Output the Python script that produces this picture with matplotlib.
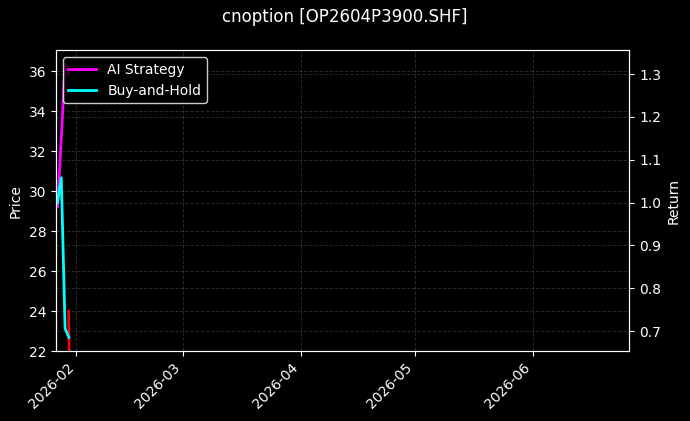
"""Option backtest chart: price vs strategy returns"""
import numpy as np
import pandas as pd
import matplotlib
matplotlib.use("Agg")
import matplotlib.pyplot as plt
import matplotlib.dates as mdates

# data
dates = pd.to_datetime(["2026-01-27", "2026-01-28", "2026-01-29", "2026-01-30"])
ai_return = [0.99, 1.15, 1.324, 1.30]
bh_return = [1.00, 1.058, 0.706, 0.685]

# last-day price move (only visible part of the price trace)
price_dates = pd.to_datetime(["2026-01-29 22:00", "2026-01-30 03:00"])
price_vals = [24.0, 21.5]

x_start = pd.Timestamp("2026-01-26 14:00")
x_end = pd.Timestamp("2026-06-26 08:00")
price_ylim = (22.0, 37.05)

plt.style.use("dark_background")

fig, ax1 = plt.subplots(figsize=(6.9, 4.21), dpi=100)
fig.subplots_adjust(left=0.081, right=0.912, top=0.881, bottom=0.166)

ax1.plot(price_dates, price_vals, color="red", linewidth=2)
ax1.set_ylim(*price_ylim)
ax1.set_ylabel("Price")
ax1.grid(True, linestyle="--", color="gray", alpha=0.3, linewidth=0.7)

ax2 = ax1.twinx()
ax2.plot(dates, ai_return, color="magenta", linewidth=2, label="AI Strategy")
ax2.plot(dates, bh_return, color="cyan", linewidth=2, label="Buy-and-Hold")
ax2.set_ylabel("Return")
ax2.grid(True, linestyle="--", color="gray", alpha=0.3, linewidth=0.7)

ax1.set_xlim(x_start, x_end)
ax1.xaxis.set_major_locator(mdates.MonthLocator())
ax1.xaxis.set_major_formatter(mdates.DateFormatter("%Y-%m"))
plt.setp(ax1.get_xticklabels(), rotation=45, ha="right")

ax2.legend(loc="upper left", facecolor="black", edgecolor="white")
fig.suptitle("cnoption [OP2604P3900.SHF]", fontsize=12)

plt.savefig("out.png", dpi=100)
